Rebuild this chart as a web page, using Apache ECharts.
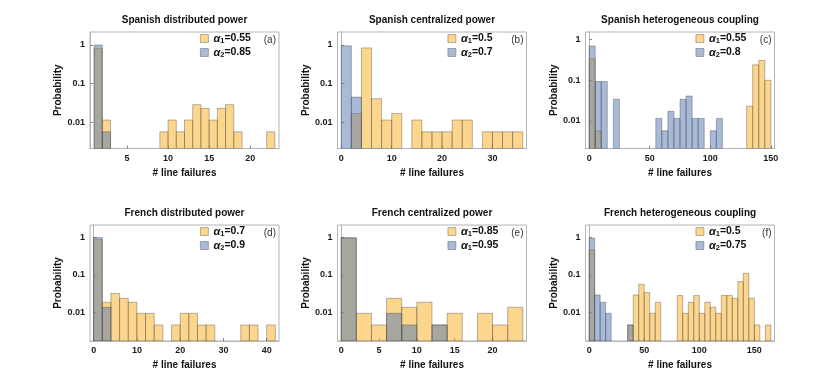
<!DOCTYPE html>
<html><head><meta charset="utf-8">
<script src="https://cdn.jsdelivr.net/npm/echarts@6/dist/echarts.min.js"></script>
<style>html,body{margin:0;padding:0;background:#fff}#c{width:830px;height:383px}</style>
</head><body><div id="c"></div>
<script>
// ---------------- DATA ----------------
const titles = ['Spanish distributed power', 'Spanish centralized power', 'Spanish heterogeneous coupling',
                'French distributed power', 'French centralized power', 'French heterogeneous coupling'];
const panelTags = ['(a)', '(b)', '(c)', '(d)', '(e)', '(f)'];
const alpha1Values = ['0.55', '0.5', '0.55', '0.7', '0.85', '0.5'];
const alpha2Values = ['0.85', '0.7', '0.8', '0.9', '0.95', '0.75'];
const alpha2Subs = ['2', '2', '2', '2', '1', '2'];
const binWidths = [1, 2, 5, 2, 2, 5];

const xTicksA = [5, 10, 15, 20];
const xTicksB = [0, 10, 20, 30];
const xTicksC = [0, 50, 100, 150];
const xTicksD = [0, 10, 20, 30, 40];
const xTicksE = [0, 5, 10, 15, 20];
const xTicksF = [0, 50, 100, 150];
const yTickLabels = ['0.01', '0.1', '1'];

// (a) Spanish distributed power
const spDistBins1 = [1, 2, 9, 10, 11, 12, 13, 14, 15, 16, 17, 18, 22];
const spDistProb1 = [0.82, 0.0115, 0.0057, 0.0115, 0.0057, 0.0115, 0.0287, 0.023, 0.0115, 0.023, 0.0287, 0.0057, 0.0057];
const spDistBins2 = [1, 2];
const spDistProb2 = [0.995, 0.0057];
// (b) Spanish centralized power
const spCentBins1 = [2, 4, 6, 8, 10, 14, 16, 18, 20, 22, 24, 28, 30, 32, 34];
const spCentProb1 = [0.017, 0.84, 0.041, 0.0115, 0.017, 0.0115, 0.0057, 0.0057, 0.0057, 0.0115, 0.0115, 0.0057, 0.0057, 0.0057, 0.0057];
const spCentBins2 = [0, 2];
const spCentProb2 = [0.95, 0.045];
// (c) Spanish heterogeneous coupling
const spHetBins1 = [0, 5, 130, 135, 140, 145];
const spHetProb1 = [0.34, 0.0057, 0.023, 0.24, 0.31, 0.1];
const spHetBins2 = [0, 5, 10, 20, 55, 60, 65, 70, 75, 80, 85, 90, 100, 105];
const spHetProb2 = [0.70, 0.093, 0.093, 0.034, 0.0115, 0.0057, 0.0172, 0.0115, 0.034, 0.041, 0.0115, 0.0115, 0.0057, 0.0115];
// (d) French distributed power
const frDistBins1 = [0, 2, 4, 6, 8, 10, 12, 14, 18, 20, 22, 24, 26, 34, 36, 40];
const frDistProb1 = [0.88, 0.0185, 0.032, 0.0236, 0.0185, 0.0094, 0.0094, 0.0046, 0.0046, 0.0094, 0.0094, 0.0046, 0.0046, 0.0046, 0.0046, 0.0046];
const frDistBins2 = [0, 2];
const frDistProb2 = [0.985, 0.0136];
// (e) French centralized power
const frCentBins1 = [0, 2, 4, 6, 8, 10, 12, 14, 18, 20, 22];
const frCentProb1 = [0.93, 0.0094, 0.0046, 0.0236, 0.0136, 0.0185, 0.0046, 0.0094, 0.0094, 0.0046, 0.0136];
const frCentBins2 = [0, 6, 8, 12];
const frCentProb2 = [0.985, 0.0094, 0.0046, 0.0046];
// (f) French heterogeneous coupling
const frHetBins1 = [0, 35, 40, 45, 50, 55, 60, 80, 85, 90, 95, 100, 105, 110, 115, 120, 125, 130, 135, 140, 145, 150, 160];
const frHetProb1 = [0.46, 0.0046, 0.029, 0.056, 0.0335, 0.0094, 0.0185, 0.028, 0.0094, 0.0185, 0.028, 0.0094, 0.0185, 0.0136, 0.0094, 0.028, 0.028, 0.0236, 0.066, 0.11, 0.0236, 0.0046, 0.0046];
const frHetBins2 = [0, 5, 10, 15, 35];
const frHetProb2 = [0.95, 0.029, 0.0185, 0.0094, 0.0046];

// ---------------- LAYOUT ----------------
const bins1 = [spDistBins1, spCentBins1, spHetBins1, frDistBins1, frCentBins1, frHetBins1];
const probs1 = [spDistProb1, spCentProb1, spHetProb1, frDistProb1, frCentProb1, frHetProb1];
const bins2 = [spDistBins2, spCentBins2, spHetBins2, frDistBins2, frCentBins2, frHetBins2];
const probs2 = [spDistProb2, spCentProb2, spHetProb2, frDistProb2, frCentProb2, frHetProb2];
const xTicks = [xTicksA, xTicksB, xTicksC, xTicksD, xTicksE, xTicksF];

const gridLeft = [90, 337.5, 585.5];
const gridTop = [32, 225];
const gridW = 189;
const gridH = [116.5, 116];
const xMin = [0.5, -0.75, -3, -0.84, -0.48, -3.3];
const xMax = [23.5, 36.75, 153, 42.84, 24.48, 168.3];
const yMinLog = [-2.675, -2.675, -2.68, -2.765, -2.765, -2.765];
const yMaxLog = [0.335, 0.335, 0.19, 0.328, 0.328, 0.328];

const FONT = '"Liberation Sans", Arial, sans-serif';
const ORANGE = 'rgba(251,173,29,0.5)';
const BLUE = 'rgba(81,117,175,0.5)';
const EDGE = 'rgba(60,60,60,0.45)';
const FRAME = '#b4b4b4';

const chart = echarts.init(document.getElementById('c'), null, {renderer: 'canvas'});

const grids = [], xAxes = [], yAxes = [], series = [], titlesOpt = [], legends = [];
const nameMap = {};

for (let i = 0; i < 6; i++) {
  const row = Math.floor(i / 3), col = i % 3;
  const L = gridLeft[col], T = gridTop[row], H = gridH[row];
  grids.push({left: L, top: T, width: gridW, height: H, show: true, borderColor: FRAME, borderWidth: 1, backgroundColor: 'transparent'});
  xAxes.push({
    type: 'value', gridIndex: i, min: xMin[i], max: xMax[i],
    splitLine: {show: false},
    axisLine: {show: true, onZero: false, lineStyle: {color: FRAME, width: 1}},
    axisTick: {show: true, inside: true, length: 3, lineStyle: {color: '#888'}, customValues: xTicks[i]},
    axisLabel: {customValues: xTicks[i], margin: 5.5, fontFamily: FONT, fontWeight: 'bold', fontSize: 9, color: '#1a1a1a'},
    name: '# line failures', nameLocation: 'middle', nameGap: 19.5,
    nameTextStyle: {fontFamily: FONT, fontWeight: 'bold', fontSize: 10, color: '#111'}
  });
  const yMin = Math.pow(10, yMinLog[i]), yMax = Math.pow(10, yMaxLog[i]);
  yAxes.push({
    type: 'log', logBase: 10, gridIndex: i, min: yMin, max: yMax,
    splitLine: {show: false},
    axisLine: {show: true, lineStyle: {color: FRAME, width: 1}},
    axisTick: {show: true, inside: true, length: 3, lineStyle: {color: '#888'}},
    axisLabel: {
      margin: 5, fontFamily: FONT, fontWeight: 'bold', fontSize: 9, color: '#1a1a1a',
      showMinLabel: false, showMaxLabel: false,
      formatter: function (v) {
        const l = Math.log10(v), r = Math.round(l);
        if (Math.abs(l - r) > 1e-6) return '';
        const idx = r + 2;
        return (idx >= 0 && idx < yTickLabels.length) ? yTickLabels[idx] : '';
      }
    },
    name: 'Probability', nameLocation: 'middle', nameGap: 25.5,
    nameTextStyle: {fontFamily: FONT, fontWeight: 'bold', fontSize: 10, color: '#111'}
  });

  const makeRender = (fill) => function (params, api) {
    const p0 = api.coord([api.value(0), api.value(2)]);
    const p1 = api.coord([api.value(1), yMin]);
    return {
      type: 'rect',
      shape: {x: p0[0], y: p0[1], width: p1[0] - p0[0], height: p1[1] - p0[1]},
      style: {fill: fill, stroke: EDGE, lineWidth: 0.8}
    };
  };
  const w = binWidths[i];
  const n1 = 's' + i + '_1', n2 = 's' + i + '_2';
  nameMap[n1] = '{a|α}{s|1}{t|=' + alpha1Values[i] + '}';
  nameMap[n2] = '{a|α}{s|' + alpha2Subs[i] + '}{t|=' + alpha2Values[i] + '}';
  series.push({
    type: 'custom', name: n1, xAxisIndex: i, yAxisIndex: i, z: 2,
    itemStyle: {color: ORANGE},
    encode: {x: [0, 1], y: 2},
    data: bins1[i].map((b, k) => [b, b + w, probs1[i][k]]),
    renderItem: makeRender(ORANGE), clip: true
  });
  series.push({
    type: 'custom', name: n2, xAxisIndex: i, yAxisIndex: i, z: 3,
    itemStyle: {color: BLUE},
    encode: {x: [0, 1], y: 2},
    data: bins2[i].map((b, k) => [b, b + w, probs2[i][k]]),
    renderItem: makeRender(BLUE), clip: true
  });

  titlesOpt.push({
    text: titles[i], left: L + gridW / 2, textAlign: 'center', top: T - 17, padding: 0,
    textStyle: {fontFamily: FONT, fontWeight: 'bold', fontSize: 10, color: '#111'}
  });
  titlesOpt.push({
    text: panelTags[i], left: L + gridW - 3, textAlign: 'right', top: T + 3, padding: 0,
    textStyle: {fontFamily: FONT, fontWeight: 'normal', fontSize: 10, color: '#333'}
  });

  const richStyle = {
    a: {fontFamily: FONT, fontStyle: 'italic', fontWeight: 'bold', fontSize: 11, lineHeight: 13, color: '#111'},
    s: {fontFamily: FONT, fontWeight: 'bold', fontSize: 7.5, lineHeight: 7, verticalAlign: 'bottom', color: '#111'},
    t: {fontFamily: FONT, fontWeight: 'bold', fontSize: 10.5, lineHeight: 13, color: '#111'}
  };
  legends.push({
    orient: 'vertical', left: L + gridW - 79, top: T + 1, padding: 0,
    itemWidth: 8, itemHeight: 8, itemGap: 2, selectedMode: false,
    data: [
      {name: n1, icon: 'rect', itemStyle: {color: ORANGE, borderColor: EDGE, borderWidth: 0.8}},
      {name: n2, icon: 'rect', itemStyle: {color: BLUE, borderColor: EDGE, borderWidth: 0.8}}
    ],
    formatter: (name) => nameMap[name],
    textStyle: {rich: richStyle}
  });
}

chart.setOption({
  animation: false,
  backgroundColor: '#fff',
  title: titlesOpt,
  legend: legends,
  grid: grids,
  xAxis: xAxes,
  yAxis: yAxes,
  series: series
});
</script>
</body></html>
